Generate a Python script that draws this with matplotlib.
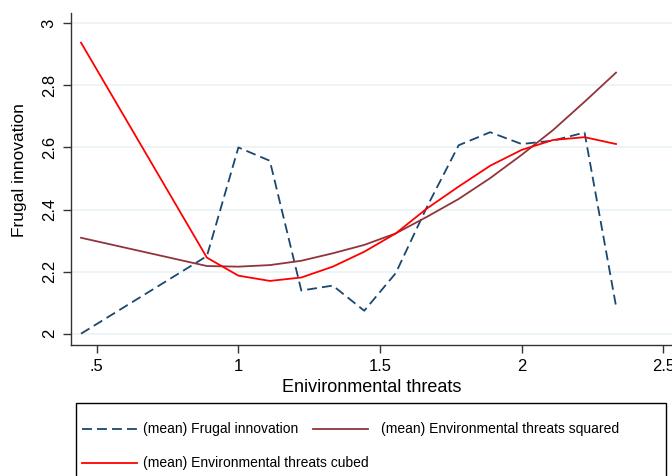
import numpy as np
import matplotlib.pyplot as plt
from matplotlib.lines import Line2D
from matplotlib.patches import Rectangle

plt.rcParams['font.family'] = ['Liberation Sans', 'DejaVu Sans']

# Valores
threats = [4/9, 8/9, 1.0, 10/9, 11/9, 12/9, 13/9, 14/9, 15/9, 16/9, 17/9, 2.0, 19/9, 20/9, 21/9]
frugal = [2.00, 2.25, 2.60, 2.557, 2.139, 2.155, 2.074, 2.195, 2.41, 2.607, 2.649, 2.611, 2.622, 2.648, 2.089]
squared = [2.309, 2.218, 2.216, 2.221, 2.235, 2.259, 2.286, 2.323, 2.377, 2.434, 2.501, 2.576, 2.656, 2.747, 2.841]
cubed = [2.9375, 2.245, 2.187, 2.170, 2.181, 2.216, 2.264, 2.323, 2.404, 2.474, 2.541, 2.592, 2.624, 2.633, 2.611]

xticks = [0.5, 1, 1.5, 2, 2.5]
xticklabels = ['.5', '1', '1.5', '2', '2.5']
yticks = [2, 2.2, 2.4, 2.6, 2.8, 3]
yticklabels = ['2', '2.2', '2.4', '2.6', '2.8', '3']

navy = '#1a476f'
maroon = '#90353b'
red = '#ff0000'
dash = (0, (5.5, 2.8))

W, H = 672, 476
fig = plt.figure(figsize=(W / 100, H / 100), dpi=100)
ax = fig.add_axes([70.7 / W, 1 - 345 / H, 1 - 70.7 / W, (345 - 12.7) / H])

ax.plot(threats, frugal, color=navy, lw=1.3, linestyle=dash)
ax.plot(threats, squared, color=maroon, lw=1.3)
ax.plot(threats, cubed, color=red, lw=1.3)

ax.set_xlim(0.408, 2.531)
ax.set_ylim(1.9636, 3.034)
ax.set_xticks(xticks)
ax.set_xticklabels(xticklabels)
ax.set_yticks(yticks)
ax.set_yticklabels(yticklabels, rotation=90, va='center')
ax.tick_params(axis='both', labelsize=12, length=6, width=1, color='#333333', pad=4)
ax.yaxis.grid(True, color='#eaf2f3', lw=1.2)
ax.set_axisbelow(True)
for s in ['top', 'right']:
    ax.spines[s].set_visible(False)
for s in ['left', 'bottom']:
    ax.spines[s].set_color('#333333')
    ax.spines[s].set_linewidth(1)

ax.set_xlabel('Enivironmental threats', fontsize=13, labelpad=4)
ax.set_ylabel('Frugal innovation', fontsize=12.5)
ax.yaxis.set_label_coords(-(70.7 - 27) / (W - 70.7), (345 - 170) / (345 - 12.7))

# Leyenda dibujada a mano (estilo Stata)
def fx(px):
    return px / W

def fy(py):
    return 1 - py / H

fig.add_artist(Rectangle((fx(76), fy(500)), fx(666) - fx(76), fy(402.5) - fy(500),
                         transform=fig.transFigure, fill=False, ec='black', lw=1))
entries = [
    (81.7, 429.3, navy, dash, '(mean) Frugal innovation', 143.3),
    (313, 429.3, maroon, '-', '(mean) Environmental threats squared', 381),
    (81.7, 462.7, red, '-', '(mean) Environmental threats cubed', 143.3),
]
for x0, y0, c, ls, lab, tx in entries:
    fig.add_artist(Line2D([fx(x0), fx(x0 + 55)], [fy(y0), fy(y0)], color=c, lw=1.3,
                          linestyle=ls, transform=fig.transFigure))
    fig.text(fx(tx), fy(y0), lab, fontsize=10, va='center', ha='left')

plt.savefig('out.png', dpi=100)
